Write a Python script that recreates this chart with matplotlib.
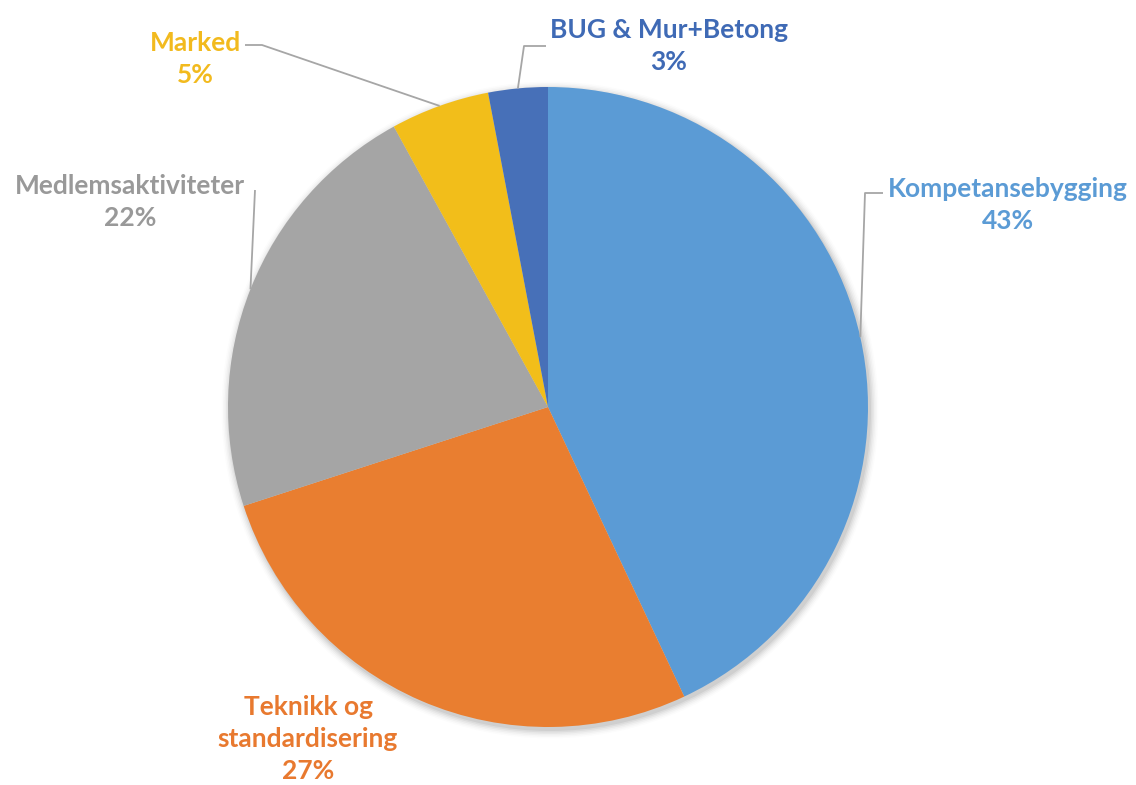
import matplotlib
matplotlib.use("Agg")
import matplotlib.pyplot as plt
import numpy as np

categories = ["Kompetansebygging", "Teknikk og\nstandardisering", "Medlemsaktiviteter", "Marked", "BUG & Mur+Betong"]
values = [43, 27, 22, 5, 3]
slice_colors = ["#5B9BD5", "#E97E30", "#A5A5A5", "#F2BE1A", "#4770B8"]
text_colors = ["#5B9BD5", "#E8792F", "#999999", "#F2BA1E", "#3F6AB5"]

W, H = 1136, 785
fig = plt.figure(figsize=(W / 100, H / 100), dpi=100)
ax = fig.add_axes([0, 0, 1, 1])

cx, cy, r = 548, H - 407, 320

# soft shadow
for i, a in enumerate(np.linspace(0.05, 0.01, 6)):
    sh = plt.Circle((cx + 2, cy - 3), r + 1 + i * 1.5, color="black", alpha=a, lw=0, zorder=0)
    ax.add_patch(sh)

wedges, _ = ax.pie(values, colors=slice_colors, startangle=90, counterclock=False,
                   radius=r, center=(cx, cy), frame=True,
                   wedgeprops=dict(linewidth=0, zorder=2))
ax.set_xlim(0, W)
ax.set_ylim(0, H)
ax.set_aspect("equal")
ax.axis("off")

def px(x, y):
    return (x, H - y)

# label text centers (pixel coords) and leader paths (elbow points after anchor)
label_pos = [(1008, 205), (308, 739), (130, 202), (195, 59), (669, 46)]
leader_paths = [
    [(865, 193), (883, 193)],
    None,
    [(255, 190)],
    [(262, 45), (245, 45)],
    [(524, 46), (546, 46)],
]

font = ["Lato", "DejaVu Sans"]
for w, cat, val, tc, lp, path in zip(wedges, categories, values, text_colors, label_pos, leader_paths):
    mid = np.deg2rad((w.theta1 + w.theta2) / 2)
    ax_x = cx + r * np.cos(mid)
    ax_y = cy + r * np.sin(mid)
    if path is not None:
        xs = [ax_x] + [p[0] for p in path]
        ys = [ax_y] + [H - p[1] for p in path]
        ax.plot(xs, ys, color="#A6A6A6", lw=1.3, zorder=3, solid_capstyle="butt")
    x, y = px(*lp)
    ax.text(x, y, f"{cat}\n{val}%", ha="center", va="center", color=tc,
            fontsize=19, fontweight="bold", family=font, linespacing=1.4, zorder=4)

fig.savefig("out.png", dpi=100, facecolor="white")
